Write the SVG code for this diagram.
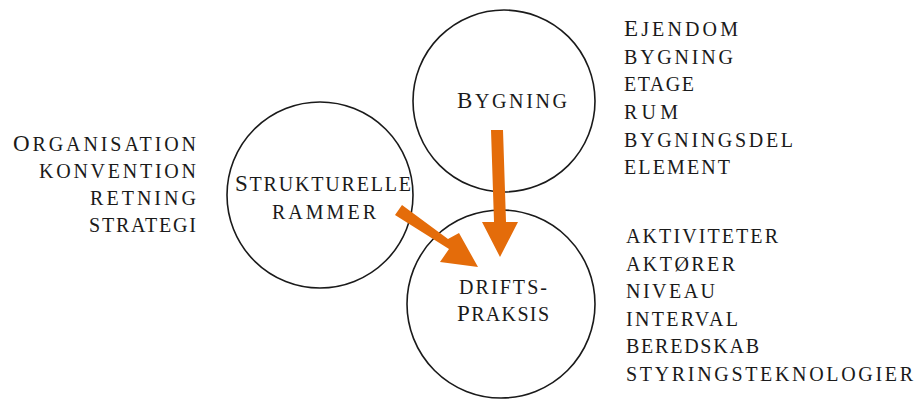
<svg xmlns="http://www.w3.org/2000/svg" width="918" height="399" viewBox="0 0 918 399">
<style>
text{font-family:"Liberation Serif","Times New Roman",serif;text-transform:uppercase;font-size:20px;fill:#1a1a1a}
.k{font-size:23px}
.c{fill:#fff;stroke:#1a1a1a;stroke-width:1.6}
.a{fill:#E46C0A}
</style>
<rect width="918" height="399" fill="#fff"/>
<g id="node-strukturelle">
<circle class="c" cx="320" cy="195" r="93"/>
<text x="235" y="191" textLength="176" lengthAdjust="spacing"><tspan class="k">S</tspan>trukturelle</text>
<text x="272" y="219" textLength="104" lengthAdjust="spacing">rammer</text>
</g>
<g id="node-bygning">
<circle class="c" cx="504" cy="101" r="91"/>
<text x="457" y="108" textLength="110" lengthAdjust="spacing"><tspan class="k">B</tspan>ygning</text>
</g>
<g id="node-driftspraksis">
<circle class="c" cx="501" cy="304" r="94"/>
<text x="459" y="294" textLength="88" lengthAdjust="spacing">drifts-</text>
<text x="457" y="321" textLength="92" lengthAdjust="spacing"><tspan class="k">P</tspan>raksis</text>
</g>
<g id="connectors">
<polygon class="a" points="491,130 503,130 506,222 518,222 500,257 482,222 494,222"/>
<polygon class="a" points="402,205 448,239 459,233 478,267 440,262 449,249 395,215"/>
</g>
<g id="list-left">
<text x="13" y="151" textLength="183" lengthAdjust="spacing"><tspan class="k">O</tspan>rganisation</text>
<text x="39" y="178" textLength="157" lengthAdjust="spacing">konvention</text>
<text x="90" y="205" textLength="106" lengthAdjust="spacing">retning</text>
<text x="89" y="232" textLength="107" lengthAdjust="spacing">strategi</text>
</g>
<g id="list-bygning">
<text x="624" y="36" textLength="114" lengthAdjust="spacing"><tspan class="k">E</tspan>jendom</text>
<text x="624" y="64" textLength="109" lengthAdjust="spacing">bygning</text>
<text x="624" y="91" textLength="70" lengthAdjust="spacing">etage</text>
<text x="624" y="119" textLength="54" lengthAdjust="spacing">rum</text>
<text x="624" y="147" textLength="169" lengthAdjust="spacing">bygningsdel</text>
<text x="624" y="174" textLength="106" lengthAdjust="spacing">element</text>
</g>
<g id="list-drift">
<text x="626" y="243" textLength="152" lengthAdjust="spacing">aktiviteter</text>
<text x="626" y="271" textLength="109" lengthAdjust="spacing">aktører</text>
<text x="626" y="298" textLength="89" lengthAdjust="spacing">niveau</text>
<text x="626" y="326" textLength="112" lengthAdjust="spacing">interval</text>
<text x="626" y="353" textLength="133" lengthAdjust="spacing">beredskab</text>
<text x="626" y="381" textLength="287" lengthAdjust="spacing">styringsteknologier</text>
</g>
</svg>
